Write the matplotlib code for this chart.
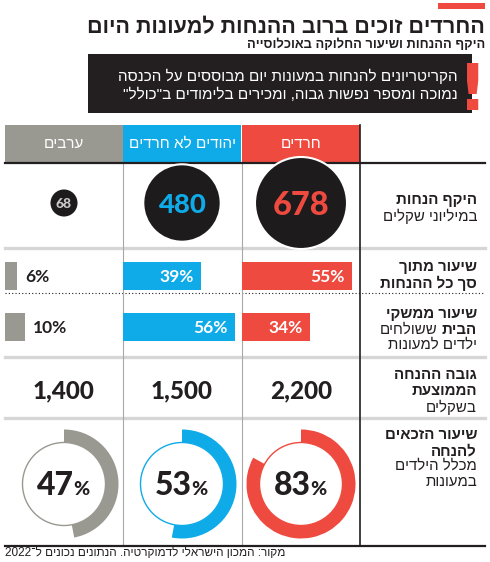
import re
import matplotlib
matplotlib.use("Agg")
import matplotlib.pyplot as plt
from matplotlib.patches import Circle, Wedge, Rectangle

# data
groups = ["חרדים", "יהודים לא חרדים", "ערבים"]
colors = ["#ee4a3f", "#0fabe8", "#999891"]
num_colors = ["#ee4a3f", "#0fabe8", "#c8c8c8"]
discount_total = [678, 480, 68]          # millions of shekels
share_of_discounts = [55, 39, 6]         # %
share_households = [34, 56, 10]          # %
avg_discount = ["2,200", "1,500", "1,400"]
eligible_rate = [83, 53, 47]             # %

title = "החרדים זוכים ברוב ההנחות למעונות היום"
subtitle = "היקף ההנחות ושיעור החלוקה באוכלוסייה"
note_lines = ["הקריטריונים להנחות במעונות יום מבוססים על הכנסה",
              'נמוכה ומספר נפשות גבוה, ומכירים בלימודים ב"כולל"']
source = "מקור: המכון הישראלי לדמוקרטיה. הנתונים נכונים ל־2022"

HEB = ["Liberation Sans", "DejaVu Sans"]
NUM = ["Lato", "DejaVu Sans"]
DARK = "#231f20"


def heb(s):
    # visual order for right-to-left text, keep number runs as they are
    toks = re.findall(r"[0-9]+(?:[.,][0-9]+)*|[^0-9]+", s)
    out = []
    for t in reversed(toks):
        out.append(t if t[0].isdigit() else t[::-1])
    return "".join(out)


W, H = 490, 562
fig = plt.figure(figsize=(W / 100, H / 100), dpi=100)
ax = fig.add_axes([0, 0, 1, 1])
ax.set_xlim(0, W)
ax.set_ylim(H, 0)
ax.axis("off")

col_left = [242, 123, 5]
col_w = 118
col_c = [l + col_w / 2 for l in col_left]
lab_x = 477

# title block
ax.add_patch(Rectangle((438, 3), 47, 5.5, color=colors[0], lw=0))
ax.text(485, 33, heb(title), ha="right", va="baseline", fontsize=15.5,
        fontweight="bold", family=HEB, color=DARK)
ax.text(485, 48, heb(subtitle), ha="right", va="baseline", fontsize=9.3,
        fontweight="bold", family=HEB, color=DARK)
ax.add_patch(Rectangle((88, 54), 384, 59, color=DARK, lw=0))
for i, line in enumerate(note_lines):
    ax.text(458, 81 + i * 18, heb(line), ha="right", va="baseline",
            fontsize=11, family=HEB, color="white")
ax.text(473, 110, "!", ha="center", va="baseline", fontsize=46,
        fontweight="bold", family=["DejaVu Sans"], color=colors[0])

# header
for g, l, c in zip(groups, col_left, colors):
    ax.add_patch(Rectangle((l, 125), col_w, 37.5, color=c, lw=0))
    ax.text(l + col_w / 2, 144, heb(g), ha="center", va="center",
            fontsize=11, family=HEB, color="white")

# grid lines
ax.plot([5, 485], [162.5, 162.5], color=DARK, lw=1.6, zorder=3)
for y in [248, 357, 418]:
    ax.plot([5, 485], [y, y], color="#d6d6d6", lw=2.4, zorder=1)
ax.plot([5, 485], [293, 293], color=DARK, lw=0.8, ls=(0, (1, 2)), zorder=1)
ax.plot([5, 485], [546, 546], color=DARK, lw=1.6, zorder=3)
for x in [123, 242]:
    ax.plot([x, x], [162, 546], color="#a8a8a8", lw=0.8, zorder=1)
ax.plot([360, 360], [125, 546], color=DARK, lw=1.2, zorder=3)

# row 1: circles sized by area
r_max = 46
for v, cx, nc in zip(discount_total, col_c, num_colors):
    r = r_max * (v / max(discount_total)) ** 0.5
    ax.add_patch(Circle((cx, 203), r, facecolor="#1d1b1c", edgecolor="white",
                        lw=1.5, zorder=4))
    fs = 23.5 * r / r_max if v > 100 else 10
    ax.text(cx, 203, str(v), ha="center", va="center_baseline", fontsize=fs,
            fontweight="black", family=NUM, color=nc, zorder=5)

# rows 2-3: bars, 2 px per percent
px = 2.0
for vals, yc in [(share_of_discounts, 276), (share_households, 327)]:
    for i, (v, l, c) in enumerate(zip(vals, col_left, colors)):
        w = v * px
        ax.barh(yc, w, left=l, height=28, color=c, zorder=2)
        if i < 2:
            ax.text(l + w - 7, yc + 1, f"{v}%", ha="right", va="center",
                    fontsize=12.5, fontweight="bold", family=NUM,
                    color="white", zorder=3)
        else:
            ax.text(l + w + 8, yc + 1, f"{v}%", ha="left", va="center",
                    fontsize=12.5, fontweight="bold", family=NUM, color=DARK,
                    zorder=3)

# row 4: average discount
for v, cx in zip(avg_discount, col_c):
    ax.text(cx, 398, v, ha="center", va="baseline", fontsize=17.5,
            fontweight="black", family=NUM, color=DARK)

# row 5: donuts
for v, cx, c in zip(eligible_rate, col_c, colors):
    ax.add_patch(Wedge((cx, 484), 54.5, 270, 270 + 3.6 * v, width=13,
                       color=c, lw=0))
    ax.add_patch(Circle((cx, 484), 41.5, facecolor="white", edgecolor=c,
                        lw=1.0))
    ax.text(cx + 10, 495, str(v), ha="right", va="baseline", fontsize=23,
            fontweight="black", family=NUM, color=DARK)
    ax.text(cx + 9, 495, "%", ha="left", va="baseline", fontsize=14,
            fontweight="black", family=NUM, color=DARK)

# row labels
fs_lab = 10.8
labels = [
    (200, "היקף הנחות", True), (216, "במיליוני שקלים", False),
    (267, "שיעור מתוך", True), (283, "סך כל ההנחות", True),
    (314, "שיעור ממשקי", True), (345, "ילדים למעונות", False),
    (375, "גובה ההנחה", True), (391, "הממוצעת", True), (407, "בשקלים", False),
    (435, "שיעור הזכאים", True), (451, "להנחה", True),
    (466, "מכלל הילדים", False), (482, "במעונות", False),
]
for y, s, b in labels:
    ax.text(lab_x, y, heb(s), ha="right", va="center", fontsize=fs_lab,
            fontweight="bold" if b else "normal", family=HEB, color=DARK)
t = ax.text(lab_x, 330, heb("הבית"), ha="right", va="center", fontsize=fs_lab,
            fontweight="bold", family=HEB, color=DARK)
ax.annotate(heb("ששולחים"), xy=(0, 0), xycoords=t, xytext=(-3, 0),
            textcoords="offset points", ha="right", va="bottom",
            fontsize=fs_lab, family=HEB, color=DARK)

ax.text(5, 556, heb(source), ha="left", va="baseline", fontsize=8.5,
        family=HEB, color=DARK)

fig.savefig("out.png", dpi=100)
